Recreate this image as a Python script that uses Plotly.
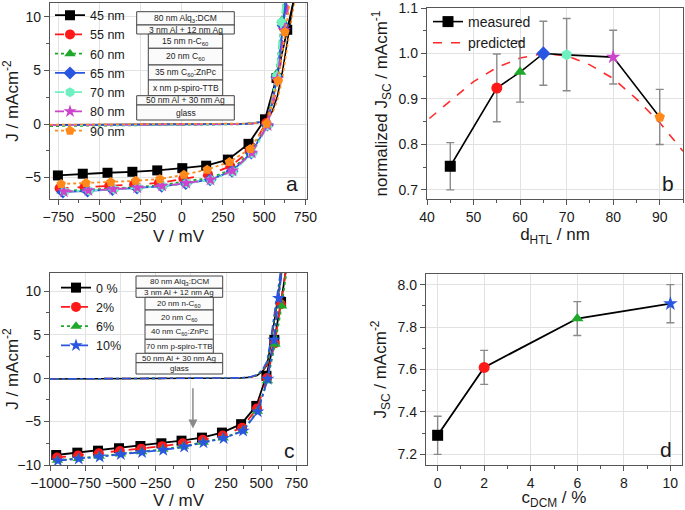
import plotly.graph_objects as go

W, H = 685, 510

# ---------------- Panel a: J-V curves for different HTL thicknesses ----------------
labels_a = ["45 nm", "55 nm", "60 nm", "65 nm", "70 nm", "80 nm", "90 nm"]
colors_a = ["#000000", "#ff1a1a", "#1fa82a", "#2a55e0", "#6ff0c0", "#cc44cc", "#ff8a1a"]
symbols_a = ["square", "circle", "triangle-up", "diamond", "hexagon", "star", "pentagon"]
dashes_a = ["solid", "dash", "dot", "solid", "dashdot", "dash", "dot"]

V_45 = [-752, -601, -451, -300, -149, 3, 148, 280, 405, 505, 575, 640, 700]
J_45 = [-4.8, -4.64, -4.55, -4.46, -4.33, -4.12, -3.89, -3.32, -1.85, 0.44, 4.3, 8.8, 13]
V_55 = [-742, -591, -441, -290, -139, 10, 160, 295, 412, 512, 578, 618, 665]
J_55 = [-6.0, -5.9, -5.8, -5.66, -5.5, -5.1, -4.75, -3.95, -2.5, 0.1, 4.3, 9.0, 14]
V_60 = [-727, -577, -426, -276, -125, 22, 170, 302, 420, 518, 575, 608, 650]
J_60 = [-6.25, -6.15, -6.03, -5.88, -5.72, -5.33, -5.05, -4.25, -2.6, -0.05, 4.7, 9.7, 15]
V_65 = [-722, -572, -421, -272, -122, 24, 172, 305, 422, 520, 578, 615, 660]
J_65 = [-6.35, -6.25, -6.12, -5.97, -5.82, -5.55, -5.2, -4.4, -2.7, -0.1, 4.4, 9.2, 14]
V_70 = [-712, -562, -411, -265, -115, 30, 177, 311, 428, 522, 575, 605, 645]
J_70 = [-6.3, -6.22, -6.1, -5.95, -5.8, -5.53, -5.22, -4.45, -2.75, -0.15, 4.46, 9.5, 15]
V_80 = [-716, -567, -416, -270, -119, 27, 174, 308, 425, 521, 580, 622, 670]
J_80 = [-6.3, -6.2, -6.08, -5.93, -5.77, -5.52, -5.2, -4.36, -2.69, -0.12, 4.2, 8.75, 14]
V_90 = [-732, -581, -431, -280, -133, 13, 154, 289, 415, 515, 585, 626, 680]
J_90 = [-5.6, -5.51, -5.42, -5.3, -5.14, -4.73, -4.26, -3.54, -2.32, 0.04, 4.05, 8.6, 14]

Vdark_a = [-800, -500, -200, 0, 200, 350, 430, 480, 520, 550, 580, 610, 640, 670, 700, 730]
Jdark_45 = [-0.08, -0.07, -0.06, -0.05, -0.03, 0.0, 0.06, 0.18, 0.5, 1.2, 2.6, 4.8, 7.6, 10.6, 13.8, 17]
Jdark_55 = [-0.1, -0.08, -0.07, -0.06, -0.04, -0.01, 0.06, 0.2, 0.6, 1.6, 3.6, 6.6, 10.2, 14, 18, 22]
Jdark_60 = [-0.2, -0.15, -0.12, -0.1, -0.07, -0.03, 0.05, 0.22, 0.8, 2.2, 5.2, 9.4, 14, 19, 24, 29]
Jdark_65 = [-0.1, -0.08, -0.07, -0.06, -0.04, -0.01, 0.06, 0.2, 0.7, 1.9, 4.4, 8.0, 12.4, 17, 22, 27]
Jdark_70 = [-0.12, -0.1, -0.08, -0.07, -0.05, -0.02, 0.06, 0.24, 0.9, 2.4, 5.6, 10, 15, 20, 25, 30]
Jdark_80 = [-0.1, -0.09, -0.07, -0.06, -0.04, -0.01, 0.05, 0.18, 0.6, 1.7, 3.8, 7.0, 10.8, 15, 19, 23]
Jdark_90 = [-0.06, -0.05, -0.04, -0.03, -0.02, 0.0, 0.05, 0.15, 0.45, 1.0, 2.2, 4.2, 6.8, 9.6, 12.6, 16]

V_a = [V_45, V_55, V_60, V_65, V_70, V_80, V_90]
J_a = [J_45, J_55, J_60, J_65, J_70, J_80, J_90]
Jdark_a = [Jdark_45, Jdark_55, Jdark_60, Jdark_65, Jdark_70, Jdark_80, Jdark_90]

# ---------------- Panel b: normalized Jsc vs HTL thickness ----------------
d_htl = [45, 55, 60, 65, 70, 80, 90]
jsc_norm = [0.752, 0.924, 0.959, 1.0, 0.997, 0.992, 0.86]
jsc_norm_hi = [0.804, 0.999, 1.027, 1.071, 1.077, 1.051, 0.921]
jsc_norm_lo = [0.700, 0.850, 0.893, 0.930, 0.918, 0.933, 0.800]
d_pred = [40.5, 45, 50, 55, 60, 65, 70, 75, 80, 85, 90, 95]
jsc_pred = [0.857, 0.895, 0.938, 0.969, 0.99, 1.0, 0.995, 0.975, 0.945, 0.90, 0.848, 0.785]

# ---------------- Panel c: J-V curves for different DCM concentrations ----------------
labels_c = ["0 %", "2%", "6%", "10%"]
colors_c = ["#000000", "#ff1a1a", "#1fa82a", "#2a55e0"]
symbols_c = ["square", "circle", "triangle-up", "star"]
dashes_c = ["solid", "dash", "dot", "dashdot"]

V_0 = [-956, -806, -659, -510, -358, -209, -66, 79, 221, 357, 465, 537, 593, 641, 690]
J_0 = [-8.85, -8.58, -8.35, -8.07, -7.81, -7.5, -7.2, -6.85, -6.27, -5.3, -3.2, 0.27, 4.4, 8.77, 14]
V_2 = [-950, -801, -653, -504, -352, -203, -57, 85, 227, 364, 470, 541, 595, 640, 690]
J_2 = [-9.15, -8.9, -8.65, -8.38, -8.12, -7.83, -7.5, -7.1, -6.6, -5.7, -3.5, 0.0, 4.0, 8.5, 14]
V_6 = [-947, -798, -650, -500, -349, -199, -52, 88, 230, 368, 473, 544, 598, 645, 690]
J_6 = [-9.45, -9.25, -9.0, -8.72, -8.48, -8.2, -7.85, -7.38, -6.88, -6.05, -3.8, -0.3, 3.9, 8.3, 13.5]
V_10 = [-944, -796, -647, -497, -346, -196, -47, 90, 233, 371, 475, 546, 590, 624, 665]
J_10 = [-9.5, -9.3, -9.05, -8.77, -8.54, -8.27, -7.9, -7.43, -6.92, -6.08, -3.85, -0.1, 4.4, 9.2, 15]

Vdark_c = [-1000, -700, -400, -100, 200, 350, 420, 470, 510, 540, 565, 590, 613, 636, 660]
Jdark_0 = [-0.1, -0.08, -0.06, -0.04, -0.01, 0.02, 0.1, 0.3, 0.8, 1.5, 3.6, 6.2, 8.8, 11.0, 13.8]
Jdark_2 = [-0.1, -0.08, -0.06, -0.04, -0.01, 0.03, 0.11, 0.33, 0.85, 1.6, 3.8, 6.5, 9.1, 11.4, 14.2]
Jdark_6 = [-0.1, -0.08, -0.06, -0.04, -0.01, 0.03, 0.12, 0.35, 0.9, 1.7, 3.9, 6.6, 9.3, 11.6, 14.4]
Jdark_10 = [-0.1, -0.08, -0.06, -0.04, -0.01, 0.03, 0.13, 0.38, 1.0, 1.9, 4.2, 7.0, 9.7, 12.0, 14.8]

V_c = [V_0, V_2, V_6, V_10]
J_c = [J_0, J_2, J_6, J_10]
Jdark_c = [Jdark_0, Jdark_2, Jdark_6, Jdark_10]

# ---------------- Panel d: Jsc vs DCM concentration ----------------
c_dcm = [0, 2, 6, 10]
jsc_dcm = [7.29, 7.61, 7.84, 7.91]
jsc_dcm_hi = [7.38, 7.69, 7.92, 8.00]
jsc_dcm_lo = [7.20, 7.53, 7.76, 7.82]

FONT = "Liberation Sans, Arial, sans-serif"
AXC = "#555555"
GRID = "#e2e2e2"

fig = go.Figure()

# Panel a traces
for i in range(7):
    fig.add_trace(go.Scatter(x=Vdark_a, y=Jdark_a[i], mode="lines", xaxis="x", yaxis="y",
                             line=dict(color=colors_a[i], dash=dashes_a[i], width=1.6),
                             showlegend=False, hoverinfo="skip"))
for i in range(7):
    fig.add_trace(go.Scatter(x=V_a[i], y=J_a[i], mode="lines+markers", name=labels_a[i],
                             xaxis="x", yaxis="y", legend="legend",
                             line=dict(color=colors_a[i], dash=dashes_a[i], width=1.8),
                             marker=dict(color=colors_a[i], symbol=symbols_a[i], size=10)))

# Panel b traces
fig.add_trace(go.Scatter(x=d_pred, y=jsc_pred, mode="lines", name="predicted",
                         xaxis="x2", yaxis="y2", legend="legend3", legendrank=2,
                         line=dict(color="#ff2a2a", dash="dash", width=1.6)))
fig.add_trace(go.Scatter(x=d_htl, y=jsc_norm, mode="lines+markers", name="measured",
                         xaxis="x2", yaxis="y2", legend="legend3", legendrank=1,
                         line=dict(color="#000000", width=1.6),
                         marker=dict(color=colors_a, symbol=symbols_a, size=11),
                         error_y=dict(type="data", symmetric=False,
                                      array=[h - v for h, v in zip(jsc_norm_hi, jsc_norm)],
                                      arrayminus=[v - l for v, l in zip(jsc_norm, jsc_norm_lo)],
                                      color="#8a8a8a", thickness=1.4, width=4)))

# Panel c traces
for i in range(4):
    fig.add_trace(go.Scatter(x=Vdark_c, y=Jdark_c[i], mode="lines", xaxis="x3", yaxis="y3",
                             line=dict(color=colors_c[i], dash=dashes_c[i], width=1.6),
                             showlegend=False, hoverinfo="skip"))
for i in range(4):
    fig.add_trace(go.Scatter(x=V_c[i], y=J_c[i], mode="lines+markers", name=labels_c[i],
                             xaxis="x3", yaxis="y3", legend="legend2",
                             line=dict(color=colors_c[i], dash=dashes_c[i], width=1.8),
                             marker=dict(color=colors_c[i], symbol=symbols_c[i], size=10)))

# Panel d trace
fig.add_trace(go.Scatter(x=c_dcm, y=jsc_dcm, mode="lines+markers", xaxis="x4", yaxis="y4",
                         showlegend=False,
                         line=dict(color="#000000", width=1.8),
                         marker=dict(color=colors_c, symbol=symbols_c, size=11),
                         error_y=dict(type="data", symmetric=False,
                                      array=[h - v for h, v in zip(jsc_dcm_hi, jsc_dcm)],
                                      arrayminus=[v - l for v, l in zip(jsc_dcm, jsc_dcm_lo)],
                                      color="#8a8a8a", thickness=1.4, width=4)))


def px(x):
    return x / W


def py(y):
    return 1 - y / H


def axis(domain, anchor, rng, dtick, minor_dtick, title, standoff, tickformat=None, tick0=None):
    d = dict(domain=domain, anchor=anchor, range=rng, dtick=dtick,
             showline=True, mirror=True, linecolor=AXC, linewidth=1.3,
             ticks="outside", ticklen=5, tickwidth=1.2, tickcolor=AXC,
             showgrid=True, gridcolor=GRID, gridwidth=1, zeroline=False,
             tickangle=0,
             tickfont=dict(size=14, color="#1a1a1a", family=FONT),
             title=dict(text=title, font=dict(size=17, color="#1a1a1a", family=FONT), standoff=standoff),
             minor=dict(ticks="outside", ticklen=3, tickcolor=AXC, dtick=minor_dtick, showgrid=False),
             automargin=False)
    if tickformat:
        d["tickformat"] = tickformat
    if tick0 is not None:
        d["tick0"] = tick0
        d["minor"]["tick0"] = tick0
    return d


xa = [px(50), px(307)]
xb = [px(427), px(683)]
xc = [px(50), px(307)]
xd = [px(426), px(682)]
ya = [py(199), py(3)]
yb = [py(199), py(8)]
yc = [py(465), py(273)]
yd = [py(465), py(274)]

layout = dict(
    width=W, height=H, margin=dict(l=0, r=0, t=0, b=0),
    paper_bgcolor="white", plot_bgcolor="white",
    font=dict(family=FONT, color="#1a1a1a"),
    xaxis=axis(xa, "y", [-800, 760], 250, 125, "V / mV", 6, tick0=-750),
    yaxis=axis(ya, "x", [-7, 11.3], 5, 2.5, "J / mAcm<sup>-2</sup>", 6, tick0=0),
    xaxis2=axis(xb, "y2", [40, 95], 10, 5, "d<sub>HTL</sub> / nm", 4, tick0=40),
    yaxis2=axis(yb, "x2", [0.68, 1.1], 0.1, 0.05, "normalized J<sub>SC</sub> / mAcm<sup>-1</sup>", 6,
                tickformat=".1f", tick0=0.7),
    xaxis3=axis(xc, "y3", [-1000, 825], 250, 125, "V / mV", 6, tick0=-1000),
    yaxis3=axis(yc, "x3", [-10, 12.1], 5, 2.5, "J / mAcm<sup>-2</sup>", 6, tick0=0),
    xaxis4=axis(xd, "y4", [-0.5, 10.5], 2, 1, "c<sub>DCM</sub> / %", 4, tick0=0),
    yaxis4=axis(yd, "x4", [7.15, 8.05], 0.2, 0.1, "J<sub>SC</sub> / mAcm<sup>-2</sup>", 6,
                tickformat=".1f", tick0=7.2),
    legend=dict(x=px(50), y=py(0.5), xanchor="left", yanchor="top", bgcolor="rgba(0,0,0,0)",
                font=dict(size=12.5, family=FONT, color="#1a1a1a"), tracegroupgap=0, itemwidth=30),
    legend2=dict(x=px(56), y=py(273), xanchor="left", yanchor="top", bgcolor="rgba(0,0,0,0)",
                 font=dict(size=12.5, family=FONT, color="#1a1a1a"), tracegroupgap=0, itemwidth=30),
    legend3=dict(x=px(428), y=py(6), xanchor="left", yanchor="top", bgcolor="rgba(0,0,0,0)",
                 font=dict(size=14, family=FONT, color="#1a1a1a"), tracegroupgap=0, itemwidth=30),
)
fig.update_layout(**layout)

# ---------------- layer stack diagrams ----------------
stack_a = [
    ("80 nm Alq<sub>3</sub>:DCM", "full", 11.7, 25),
    ("3 nm Al + 12 nm Ag", "full", 25, 34),
    ("15 nm n-C<sub>60</sub>", "inner", 34, 48.3),
    ("20 nm C<sub>60</sub>", "inner", 48.3, 65),
    ("35 nm C<sub>60</sub>:ZnPc", "inner", 65, 80),
    ("x nm p-spiro-TTB", "inner", 80, 95.7),
    ("50 nm Al + 30 nm Ag", "full", 95.7, 105),
    ("glass", "full", 105, 120),
]
stack_c = [
    ("80 nm Alq<sub>3</sub>:DCM", "full", 276, 288.3),
    ("3 nm Al + 12 nm Ag", "full", 288.3, 297.3),
    ("20 nm n-C<sub>60</sub>", "inner", 297.3, 310),
    ("20 nm C<sub>60</sub>", "inner", 310, 325),
    ("40 nm C<sub>60</sub>:ZnPc", "inner", 325, 339.3),
    ("70 nm p-spiro-TTB", "inner", 339.3, 353.3),
    ("50 nm Al + 30 nm Ag", "full", 353.3, 362.7),
    ("glass", "full", 362.7, 374),
]
shapes = []
annotations = []
for stack, full, inner, fs in [(stack_a, (136.7, 234.3), (148.3, 222.7), 8.5),
                               (stack_c, (136, 222.7), (145, 213.3), 8)]:
    for text, kind, y0, y1 in stack:
        x0, x1 = full if kind == "full" else inner
        shapes.append(dict(type="rect", xref="paper", yref="paper", x0=px(x0), x1=px(x1),
                           y0=py(y1), y1=py(y0), line=dict(color="#444444", width=1),
                           fillcolor="#fbfbfb", layer="above"))
        annotations.append(dict(xref="paper", yref="paper", x=px((x0 + x1) / 2), y=py((y0 + y1) / 2),
                                text=text, showarrow=False, xanchor="center", yanchor="middle",
                                font=dict(size=fs, family=FONT, color="#222222")))

# panel letters
for letter, x, y in [("a", 291.5, 183), ("b", 668, 183), ("c", 289, 450), ("d", 666, 449)]:
    annotations.append(dict(xref="paper", yref="paper", x=px(x), y=py(y), text=letter,
                            showarrow=False, xanchor="center", yanchor="middle",
                            font=dict(size=21, family=FONT, color="#1a1a1a")))

# arrow in panel c
annotations.append(dict(xref="x3", yref="y3", x=15, y=-5.8, axref="x3", ayref="y3", ax=15, ay=-1.0,
                        text="", showarrow=True, arrowhead=2, arrowsize=1.2, arrowwidth=1.5,
                        arrowcolor="#8a8a8a"))

fig.update_layout(shapes=shapes, annotations=annotations)
fig.write_html("out.html", config={"displayModeBar": False},
               post_script="document.body.style.margin='0px';")
